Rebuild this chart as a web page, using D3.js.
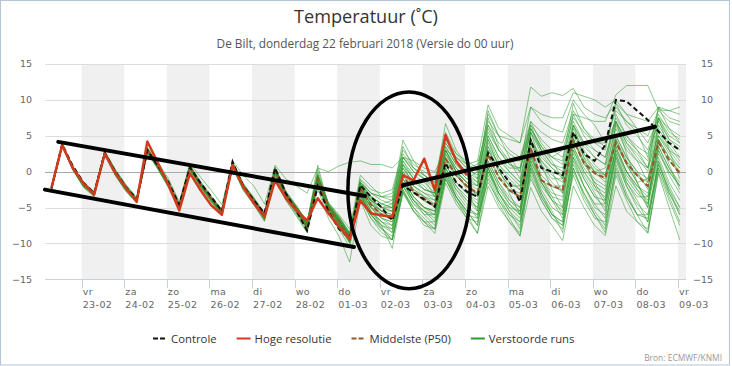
<!DOCTYPE html>
<html><head><meta charset="utf-8">
<script src="https://cdn.jsdelivr.net/npm/d3@7"></script>
<style>body{margin:0;background:#fff}svg{display:block}</style>
</head><body>
<svg id="chart" width="732" height="366"></svg>
<script>
// ---------------- DATA ----------------
const titleText = "Temperatuur (˚C)";
const subtitleText = "De Bilt, donderdag 22 februari 2018 (Versie do 00 uur)";
const creditText = "Bron: ECMWF/KNMI";
const yTickValues = [-15, -10, -5, 0, 5, 10, 15];
const dayTicks = ["2018-02-23","2018-02-24","2018-02-25","2018-02-26","2018-02-27","2018-02-28","2018-03-01",
  "2018-03-02","2018-03-03","2018-03-04","2018-03-05","2018-03-06","2018-03-07","2018-03-08","2018-03-09"];
const dayNames = ["vr","za","zo","ma","di","wo","do","vr","za","zo","ma","di","wo","do","vr"];
const dayDates = ["23-02","24-02","25-02","26-02","27-02","28-02","01-03","02-03","03-03","04-03","05-03","06-03","07-03","08-03","09-03"];
const axisStart = "2018-02-22T03:20", axisEnd = "2018-03-09T04:30";
const firstStep = "2018-02-22T07:00", stepHours = 6, stepCount = 60;
const legendNames = ["Controle", "Hoge resolutie", "Middelste (P50)", "Verstoorde runs"];

// Hoge resolutie (HRES, runs to +10 days)
const hres = [-2.2,3.7,0.5,-1.6, -3.2,2.5,-0.2,-2.3, -4.2,4.2,1.2,-1.9, -5.4,-0.2,-2.6,-4.7, -6.0,0.9,-2.1,-4.4,
  -6.3,-1.2,-3.7,-5.4, -6.8,-3.7,-5.8,-7.7, -9.4,-4.0,-5.8,-6.1, -6.3,-0.5,-1.2,1.8, -2.6,5.1,1.5,-0.5];
// Controle
const controle = [-2.3,3.8,0.8,-1.5, -3.0,2.6,0.0,-2.2, -3.8,3.0,0.8,-1.5, -4.6,0.6,-1.6,-3.5, -5.5,1.4,-2.0,-4.0,
  -5.8,0.5,-3.0,-5.5, -8.2,-2.0,-5.5,-8.0, -9.3,-1.9,-3.5,-5.0, -6.8,-1.9,-2.9,-3.9, -4.9,1.2,-1.5,-2.8,
  -3.5,2.6,0.5,-1.5, -4.2,4.4,0.5,0.0, -0.5,5.5,2.5,1.5, 3.7,10.0,9.8,8.5, 7.2,5.6,4.0,3.0];
// Middelste (P50)
const p50 = [-2.3,3.7,0.5,-1.8, -3.1,2.6,-0.2,-2.3, -4.0,3.0,0.8,-1.8, -4.8,0.6,-1.8,-3.8, -5.6,1.0,-2.0,-4.0,
  -6.2,0.2,-3.2,-5.2, -7.5,-1.0,-5.0,-7.0, -9.2,-2.4,-4.6,-6.0, -6.6,-0.5,-2.8,-3.8, -4.8,1.8,-0.5,-2.0,
  -3.0,2.3,-0.8,-2.6, -3.5,3.3,-1.2,-2.0, -2.5,4.4,1.2,-0.2, -0.9,4.1,1.2,-0.5, -2.0,4.1,1.6,-0.2];
// Verstoorde runs (ensemble members)
const ensembleRuns = [
 [-2.3,3.7,0.4,-1.9, -3.2,2.5,-0.3,-2.4, -4.1,2.9,0.7,-1.9, -4.9,0.5,-1.9,-3.9, -5.7,0.9,-2.1,-4.1, -6.3,0.1,-3.3,-5.3, -7.6,-1.1,-5.1,-7.1, -9.3,-2.6,-4.9,-6.1, -6.6,-1.0,-3.0,-4.1, -4.9,1.4,-0.6,-2.1, -3.1,2.2,-0.9,-2.7, -3.6,3.2,-1.3,-2.1, -2.6,4.3,1.1,-0.3, -1.0,4.0,1.1,-0.6, -2.1,4.0,1.5,-0.3],
 [-2.4,3.5,0.2,-2.2, -3.5,2.3,-0.6,-2.8, -4.4,2.6,0.3,-2.3, -5.3,0.2,-2.3,-4.3, -6.1,0.6,-2.6,-4.6, -6.9,-0.4,-3.9,-6.0, -8.4,-1.8,-5.8,-8.0, -10.5,-3.5,-6.5,-8.0, -9.5,-2.5,-5.0,-6.5, -8.0,-0.5,-3.5,-5.5, -7.5,0.5,-3.0,-5.5, -8.0,1.0,-3.0,-5.5, -8.5,0.5,-3.0,-6.0, -8.0,1.0,-3.0,-6.0, -8.5,0.0,-4.0,-7.5],
 [-2.2,3.8,0.7,-1.6, -2.9,2.8,0.1,-2.0, -3.8,3.3,1.1,-1.4, -4.5,0.9,-1.5,-3.5, -5.3,1.3,-1.7,-3.7, -5.8,0.6,-2.8,-4.8, -7.0,-0.5,-4.4,-6.3, -8.5,-1.5,-3.5,-4.5, -4.0,2.0,0.0,-1.0, -2.0,4.5,2.0,0.5, -0.5,6.0,3.0,1.0, 0.0,7.0,4.0,2.0, 1.0,8.0,5.0,3.0, 2.0,7.0,4.5,3.0, 1.5,7.5,5.0,4.0],
 [-2.3,3.6,0.5,-1.7, -3.1,2.7,-0.1,-2.2, -3.9,3.1,0.9,-1.7, -4.7,0.7,-1.7,-3.7, -5.5,1.1,-1.9,-3.9, -6.1,0.3,-3.0,-5.1, -7.3,-0.8,-4.8,-6.8, -9.8,-3.5,-6.0,-7.5, -8.5,-2.0,-4.0,-5.0, -5.5,1.0,-1.5,-3.0, -4.5,1.5,-1.5,-3.5, -5.0,2.0,-1.0,-3.0, -3.5,3.5,0.5,-1.5, -2.5,3.0,0.0,-2.0, -3.5,2.5,0.0,-2.0],
 [-2.3,3.7,0.8,-1.4, -2.8,2.9,0.3,-1.8, -3.6,3.4,1.3,-1.0, -4.2,1.2,-0.8,-2.6, -4.6,1.5,-0.5,-2.0, -4.5,0.9,-1.0,-2.0, -3.0,0.5,0.0,0.8, 1.3,1.5,1.0,1.0, 0.5,2.0,1.5,0.5, 0.0,3.0,2.0,1.0, 1.5,9.3,6.0,5.0, 4.0,11.8,10.5,11.0, 10.6,11.6,9.0,8.0, 7.5,9.5,8.0,7.5, 7.0,9.0,8.5,8.0],
 [-2.2,3.9,0.6,-1.5, -2.9,2.6,0.0,-2.1, -3.8,3.0,0.9,-1.6, -4.6,0.8,-1.6,-3.6, -5.4,1.1,-1.8,-3.8, -5.9,0.4,-2.9,-4.9, -7.1,-0.6,-4.5,-6.5, -8.8,-1.0,-2.5,-3.0, -2.5,3.0,1.0,0.0, -1.0,5.5,2.5,1.0, 0.0,8.0,5.0,3.0, 2.0,7.0,5.5,4.5, 4.0,8.5,6.0,4.5, 3.5,9.0,7.0,6.0, 5.0,8.5,7.0,6.5],
 [-2.4,3.6,0.3,-2.0, -3.3,2.4,-0.4,-2.6, -4.2,2.8,0.5,-2.0, -5.0,0.4,-2.0,-4.0, -5.9,0.8,-2.3,-4.3, -6.5,-0.1,-3.5,-5.6, -7.9,-1.6,-5.4,-7.4, -9.8,-3.0,-5.5,-7.5, -10.7,-2.8,-5.0,-7.0, -8.6,-1.6,-4.5,-6.5, -8.6,-2.0,-5.0,-7.0, -9.0,-2.2,-5.5,-7.5, -9.6,-2.0,-5.0,-7.5, -8.9,-2.0,-5.5,-7.0, -8.6,-0.3,-5.0,-9.5],
 [-2.3,3.8,0.6,-1.8, -3.0,2.7,-0.1,-2.3, -4.0,3.1,0.8,-1.7, -4.8,0.7,-1.8,-3.8, -5.6,1.0,-2.0,-4.0, -6.2,0.2,-3.1,-5.2, -7.4,-0.9,-4.9,-6.9, -9.0,-2.2,-4.5,-5.5, -6.0,0.0,-2.5,-3.5, -4.5,2.0,-0.5,-2.0, -3.5,3.0,0.0,-2.0, -4.0,4.0,0.5,-1.5, -3.0,5.0,2.0,0.0, -1.5,5.0,2.0,0.0, -2.5,5.0,2.5,0.5],
 [-2.3,3.6,0.4,-2.0, -3.2,2.5,-0.4,-2.5, -4.1,2.8,0.6,-2.0, -5.0,0.5,-2.0,-4.0, -5.8,0.9,-2.2,-4.2, -6.4,0.0,-3.4,-5.4, -7.7,-1.3,-5.2,-7.2, -9.6,-3.2,-5.8,-7.0, -7.5,-2.0,-4.5,-5.5, -6.5,0.0,-2.5,-4.0, -5.5,0.5,-2.5,-4.5, -6.0,1.5,-2.0,-4.0, -5.5,2.0,-1.0,-3.5, -5.0,2.5,-1.0,-3.0, -4.5,2.0,-1.5,-4.0],
 [-2.2,3.7,0.5,-1.7, -3.0,2.6,0.0,-2.1, -3.9,3.0,0.9,-1.6, -4.7,0.6,-1.7,-3.7, -5.5,1.0,-1.9,-3.9, -6.0,0.4,-3.0,-5.0, -7.2,-0.4,-4.3,-6.0, -8.0,-0.5,-2.0,-3.5, -4.0,4.4,1.5,-0.5, -2.0,6.7,3.0,1.0, -1.0,8.5,5.0,2.0, 0.0,6.5,3.0,1.0, 0.5,7.0,4.0,2.0, 1.0,8.0,5.0,3.0, 0.5,9.0,6.0,4.0],
 [-2.3,3.7,0.4,-1.9, -3.1,2.6,-0.2,-2.4, -4.0,2.9,0.7,-1.9, -4.9,0.6,-1.9,-3.9, -5.7,1.0,-2.1,-4.1, -6.3,0.2,-3.3,-5.3, -7.6,-1.0,-5.0,-7.0, -9.2,-2.8,-5.5,-7.0, -8.0,-1.5,-4.0,-6.0, -7.5,0.0,-3.5,-6.0, -8.6,-0.5,-4.0,-6.5, -8.9,0.5,-3.5,-6.0, -7.0,2.0,-2.0,-4.5, -6.5,2.5,-1.5,-4.0, -7.0,1.5,-2.0,-5.0],
 [-2.2,3.8,0.7,-1.6, -2.9,2.8,0.2,-1.9, -3.7,3.2,1.1,-1.4, -4.5,0.9,-1.4,-3.4, -5.3,1.3,-1.6,-3.6, -5.8,0.6,-2.7,-4.7, -7.0,-0.2,-4.4,-6.2, -8.6,-1.8,-3.5,-4.5, -5.0,1.5,-0.5,-1.5, -3.0,3.5,1.0,-0.5, -2.0,4.5,1.5,0.0, -1.5,6.0,3.0,1.0, 0.0,6.5,3.5,2.0, 1.0,7.0,4.0,2.5, 0.5,7.5,4.5,3.0],
 [-2.4,3.5,0.3,-2.1, -3.4,2.4,-0.5,-2.7, -4.3,2.7,0.4,-2.2, -5.1,0.3,-2.1,-4.1, -6.0,0.7,-2.4,-4.4, -6.7,-0.3,-3.7,-5.8, -8.1,-1.8,-5.6,-7.6, -10.0,-3.8,-6.5,-8.5, -9.5,-2.5,-5.5,-7.0, -7.0,-1.0,-3.5,-5.5, -6.0,-1.5,-4.0,-6.0, -7.0,-1.0,-4.0,-6.5, -8.0,0.0,-3.0,-5.5, -7.5,0.5,-3.5,-6.0, -6.5,0.5,-3.0,-5.5],
 [-2.3,3.7,0.6,-1.7, -3.1,2.6,-0.1,-2.2, -4.0,3.0,0.8,-1.8, -4.8,0.7,-1.7,-3.7, -5.6,1.1,-1.9,-3.9, -6.1,0.3,-3.1,-5.1, -7.4,-0.7,-4.8,-6.6, -8.9,-2.0,-4.5,-6.0, -6.5,-0.5,-2.5,-3.5, -4.0,2.0,0.0,-1.5, -2.5,3.5,1.0,-0.5, -2.0,4.5,2.0,0.5, -0.5,6.5,4.0,3.0, 2.0,7.5,5.0,3.5, 2.5,7.0,4.5,3.5],
 [-2.4,3.6,0.3,-2.0, -3.3,2.4,-0.5,-2.6, -4.2,2.7,0.4,-2.1, -5.1,0.3,-2.1,-4.2, -6.0,0.6,-2.5,-4.6, -6.9,-0.6,-4.0,-6.2, -8.5,-2.4,-6.5,-9.0, -12.6,-4.0,-7.5,-9.0, -9.5,-3.0,-5.5,-7.0, -8.0,-1.0,-4.0,-6.0, -6.5,1.0,-2.0,-4.0, -5.0,2.5,-1.0,-3.5, -6.0,3.0,-0.5,-3.0, -5.5,3.5,0.0,-2.5, -5.0,3.0,-0.5,-3.0],
 [-2.3,3.7,0.5,-1.8, -3.1,2.6,-0.2,-2.3, -4.0,3.0,0.8,-1.8, -4.8,0.6,-1.8,-3.8, -5.6,1.0,-2.0,-4.0, -6.2,0.1,-3.2,-5.2, -7.5,-1.2,-5.0,-7.0, -9.4,-2.4,-4.5,-5.5, -5.5,0.5,-2.0,-3.0, -3.5,2.5,0.0,-1.5, -2.0,4.0,1.0,-1.0, -2.5,4.5,1.0,-1.0, -1.0,5.5,2.5,0.5, -0.5,5.0,2.0,0.0, -1.0,5.5,3.0,1.0],
 [-2.3,3.6,0.4,-1.9, -3.2,2.5,-0.3,-2.4, -4.1,2.8,0.6,-2.0, -4.9,0.5,-1.9,-3.9, -5.8,0.9,-2.2,-4.2, -6.4,0.0,-3.4,-5.5, -7.8,-1.4,-5.3,-7.3, -9.5,-3.2,-6.0,-8.0, -9.0,-2.0,-4.5,-6.0, -6.0,0.5,-2.0,-4.0, -5.0,1.0,-2.0,-4.5, -6.0,2.0,-1.5,-4.0, -5.0,3.0,0.0,-2.0, -3.0,3.0,-0.5,-2.5, -4.0,3.5,0.5,-2.0],
 [-2.2,3.8,0.6,-1.7, -3.0,2.7,0.0,-2.1, -3.9,3.1,1.0,-1.6, -4.7,0.8,-1.6,-3.6, -5.4,1.2,-1.8,-3.8, -6.0,0.3,-3.0,-5.0, -7.3,0.9,-4.7,-6.7, -9.0,-1.5,-3.5,-4.5, -5.0,3.5,0.5,-1.0, -3.5,5.0,1.5,0.0, -1.5,7.5,3.5,1.5, -1.0,6.0,3.5,2.0, 1.5,9.5,6.0,4.0, 3.0,9.5,6.5,5.0, 3.0,8.0,5.5,4.5],
 [-2.3,3.7,0.5,-1.8, -3.1,2.6,-0.2,-2.3, -4.0,2.9,0.7,-1.9, -4.9,0.6,-1.9,-3.9, -5.7,0.9,-2.1,-4.1, -6.3,0.1,-3.3,-5.3, -7.6,-1.0,-5.0,-7.0, -9.2,-2.5,-5.0,-6.5, -7.0,-1.5,-3.5,-5.0, -5.5,1.0,-1.5,-3.0, -4.0,1.5,-1.5,-4.0, -5.5,2.5,-1.5,-4.0, -6.5,1.5,-2.0,-4.5, -4.5,2.0,-1.5,-3.5, -3.5,3.0,0.0,-2.0],
 [-2.3,3.8,0.6,-1.7, -3.0,2.7,-0.1,-2.2, -3.9,3.1,0.9,-1.7, -4.7,0.7,-1.7,-3.7, -5.5,1.0,-1.9,-3.9, -6.1,0.3,-3.1,-5.1, -7.4,-0.8,-4.8,-6.8, -9.0,-2.2,-4.0,-5.0, -4.5,1.0,-1.0,-2.5, -3.0,3.0,0.5,-1.0, 0.0,5.5,3.0,1.5, 1.5,6.0,3.5,1.5, -1.0,4.5,1.5,-1.5, -4.0,2.0,-2.0,-4.5, -6.0,1.5,-3.0,-6.0],
 [-2.3,3.6,0.5,-1.8, -3.1,2.6,-0.2,-2.3, -4.0,2.9,0.7,-1.8, -4.8,0.6,-1.8,-3.8, -5.6,1.0,-2.0,-4.0, -6.2,0.2,-3.2,-5.2, -7.5,-1.0,-5.0,-6.9, -9.1,-2.3,-4.6,-5.8, -6.2,-0.5,-2.8,-4.0, -4.6,1.8,-0.4,-2.0, -3.2,2.5,-0.6,-2.5, -3.0,3.5,-0.5,-2.0, -2.0,4.5,1.5,0.0, -0.5,4.5,1.5,-0.5, -1.5,4.5,2.0,0.0],
 [-2.2,3.7,0.6,-1.6, -3.0,2.7,0.0,-2.1, -3.9,3.1,0.9,-1.6, -4.7,0.8,-1.6,-3.6, -5.4,1.2,-1.8,-3.8, -5.9,0.5,-2.9,-4.9, -7.1,0.3,-4.6,-6.5, -8.7,-1.2,-3.0,-3.5, -3.0,2.5,0.5,-0.5, -1.5,4.0,2.0,0.5, 1.0,6.5,4.0,2.5, 1.5,6.5,4.5,3.0, 2.0,7.5,5.5,4.0, 4.0,8.5,7.0,5.5, 2.0,9.0,7.5,7.0],
 [-2.4,3.6,0.4,-2.0, -3.3,2.5,-0.4,-2.5, -4.2,2.8,0.5,-2.0, -5.0,0.4,-2.0,-4.0, -5.9,0.8,-2.3,-4.3, -6.6,-0.2,-3.6,-5.7, -8.0,-1.6,-5.5,-7.5, -9.9,-3.2,-6.0,-7.8, -9.5,-2.8,-5.5,-7.5, -8.0,-1.0,-4.0,-6.5, -7.0,-1.0,-4.5,-7.0, -8.5,-0.5,-4.0,-6.5, -7.5,0.5,-3.5,-6.0, -8.5,-0.5,-4.0,-7.0, -8.0,0.5,-3.5,-7.0],
 [-2.3,3.7,0.5,-1.8, -3.1,2.6,-0.2,-2.3, -4.0,3.0,0.8,-1.8, -4.8,0.6,-1.8,-3.8, -5.6,1.0,-2.0,-4.0, -6.2,0.2,-3.2,-5.2, -7.5,-0.9,-4.9,-6.9, -9.0,-2.0,-4.0,-5.0, -5.0,1.0,-1.0,-2.5, -3.0,3.0,0.0,-1.5, -3.5,3.5,0.0,-2.0, -2.0,4.0,1.5,0.0, -3.0,4.5,1.0,-1.0, -2.0,4.0,1.0,-1.5, -1.0,4.5,2.0,0.5],
 [-2.4,3.7,0.4,-1.9, -3.2,2.6,-0.3,-2.4, -4.1,2.9,0.6,-1.9, -4.9,0.5,-1.9,-3.9, -5.7,0.9,-2.2,-4.2, -6.4,0.1,-3.4,-5.4, -7.7,-1.1,-5.2,-7.2, -9.5,-2.9,-5.0,-6.5, -7.5,-1.5,-4.0,-5.5, -6.0,0.5,-2.0,-3.5, -5.0,0.5,-3.0,-5.0, -6.5,1.0,-2.5,-5.0, -6.0,2.5,-1.0,-3.5, -4.0,3.5,0.0,-2.0, -3.0,3.5,0.5,-1.5],
 [-2.3,3.8,0.6,-1.7, -3.0,2.7,0.0,-2.2, -3.9,3.1,0.9,-1.7, -4.7,0.7,-1.7,-3.7, -5.5,1.1,-1.9,-3.9, -6.0,0.4,-3.0,-5.0, -7.2,-0.5,-4.6,-6.5, -8.8,-1.5,-3.0,-4.0, -4.5,2.0,0.0,-1.0, -2.5,4.0,1.5,0.0, -1.0,5.0,2.0,0.5, 0.5,5.5,3.0,2.0, 3.0,8.0,7.5,7.0, 7.0,10.7,12.0,12.0, 12.0,8.6,8.5,9.0],
 [-2.3,3.7,0.5,-1.8, -3.1,2.6,-0.1,-2.3, -4.0,3.0,0.8,-1.8, -4.8,0.7,-1.8,-3.8, -5.6,1.0,-2.0,-4.0, -6.2,0.2,-3.2,-5.2, -7.4,-1.0,-4.9,-6.9, -9.0,-1.8,-3.8,-5.0, -5.5,1.5,-1.0,-2.0, -3.5,3.5,1.0,-0.5, -1.5,6.5,3.0,1.0, 0.5,9.0,7.0,6.0, 5.5,10.0,8.0,6.5, 4.0,7.0,4.0,2.0, 0.0,6.5,4.0,2.0],
 [-2.4,3.6,0.4,-2.0, -3.3,2.5,-0.4,-2.5, -4.2,2.8,0.5,-2.0, -5.0,0.4,-2.0,-4.0, -5.9,0.8,-2.3,-4.3, -6.5,0.0,-3.5,-5.6, -7.9,-1.5,-5.4,-7.4, -9.7,-3.0,-5.5,-7.0, -8.5,-1.0,-3.5,-5.0, -6.0,0.5,-2.5,-4.5, -6.5,0.0,-3.5,-6.0, -7.5,0.5,-3.0,-6.0, -7.0,1.0,-2.0,-5.0, -6.0,1.5,-2.0,-5.0, -7.0,1.0,-2.5,-6.0],
 [-2.3,3.7,0.6,-1.7, -3.0,2.7,0.0,-2.2, -3.9,3.1,0.9,-1.7, -4.7,0.7,-1.7,-3.7, -5.5,1.1,-1.9,-3.9, -6.1,0.3,-3.1,-5.1, -7.3,-0.8,-4.7,-6.7, -8.9,-1.8,-4.0,-5.5, -6.5,1.0,-2.0,-3.5, -5.0,3.0,0.0,-2.5, -5.5,4.5,0.5,-3.0, -6.0,5.5,1.0,-2.5, -5.0,6.5,2.0,-2.0, -4.5,7.0,2.5,-1.5, -5.0,7.5,3.0,-1.0],
 [-2.3,3.7,0.5,-1.8, -3.1,2.6,-0.2,-2.3, -4.0,3.0,0.8,-1.8, -4.8,0.6,-1.8,-3.8, -5.6,1.0,-2.0,-4.0, -6.2,0.2,-3.2,-5.2, -7.4,-0.6,-4.6,-6.4, -8.6,-1.5,-3.0,-3.5, -3.5,2.0,0.5,-0.5, -1.5,4.5,2.5,1.5, 0.5,7.0,5.0,4.5, 4.0,9.0,8.0,7.5, 7.5,11.0,10.5,10.0, 9.0,10.0,8.0,6.0, 4.0,7.5,6.0,5.0],
 [-2.4,3.6,0.3,-2.0, -3.3,2.4,-0.4,-2.6, -4.2,2.8,0.5,-2.0, -5.0,0.4,-2.0,-4.0, -5.8,0.8,-2.2,-4.2, -6.4,0.0,-3.4,-5.4, -7.8,-1.3,-5.3,-7.3, -9.8,-3.3,-6.0,-7.5, -8.0,-1.5,-4.0,-5.5, -7.0,-0.5,-3.5,-5.5, -7.5,0.0,-3.0,-5.0, -5.5,1.5,-1.5,-3.5, -4.0,3.5,0.0,-2.5, -3.5,4.5,1.0,-1.5, -4.5,4.5,1.0,-2.5],
 [-2.2,3.8,0.6,-1.6, -3.0,2.7,0.0,-2.1, -3.9,3.1,0.9,-1.6, -4.7,0.8,-1.6,-3.6, -5.4,1.1,-1.8,-3.8, -6.0,0.4,-3.0,-5.0, -7.2,-0.7,-4.6,-6.6, -9.0,-2.0,-4.0,-5.0, -5.5,0.5,-1.5,-2.5, -3.0,3.0,0.5,-1.0, -2.0,5.0,2.0,0.0, -1.5,5.5,2.5,0.5, -1.0,6.0,3.0,1.0, -0.5,6.5,3.5,1.5, -1.5,6.0,3.5,1.5],
 [-2.3,3.6,0.4,-1.9, -3.2,2.5,-0.3,-2.4, -4.1,2.9,0.6,-1.9, -4.9,0.5,-1.9,-3.9, -5.7,0.9,-2.1,-4.1, -6.3,0.1,-3.3,-5.3, -7.6,-1.2,-5.1,-7.1, -9.3,-2.7,-5.0,-6.5, -7.0,-1.0,-3.5,-5.0, -5.5,0.0,-3.0,-5.0, -6.0,0.5,-3.0,-5.5, -7.0,0.0,-3.5,-6.0, -7.5,-0.5,-4.0,-6.5, -7.0,0.0,-3.5,-6.0, -6.0,1.0,-2.5,-5.0],
 [-2.3,3.7,0.5,-1.8, -3.1,2.6,-0.1,-2.3, -4.0,3.0,0.8,-1.8, -4.8,0.7,-1.8,-3.8, -5.6,1.0,-2.0,-4.0, -6.2,0.3,-3.1,-5.1, -7.4,-0.9,-4.9,-6.9, -9.1,-2.0,-4.2,-5.5, -6.0,0.0,-2.0,-3.0, -4.0,2.5,0.0,-1.5, -3.0,3.0,0.5,-1.5, -2.5,4.5,1.5,-0.5, -1.5,5.5,2.5,0.0, 0.5,6.0,3.0,1.5, 0.5,5.0,3.0,2.0]
];
// Hand-drawn annotations on the picture (in data units: time, °C)
const annotationLines = [
  [["2018-02-22T10:50", 4.15], ["2018-03-01T15:36", -3.4]],
  [["2018-02-22T03:20", -2.5], ["2018-03-01T09:26", -10.5]],
  [["2018-03-02T13:02", -1.9], ["2018-03-08T11:01", 6.25]]
];
const annotationEllipse = {center: ["2018-03-02T16:25", -2.6], halfHours: 34.4, halfDegrees: 13.7};

// ---------------- CHART ----------------
const W = 732, H = 366;
const plot = {left: 45, right: 686, top: 64, bottom: 279.3};
const parse = s => new Date(s + ":00Z");
const parseDay = s => new Date(s + "T00:00:00Z");
const times = d3.range(stepCount).map(i => new Date(parse(firstStep).getTime() + i * stepHours * 3600e3));

const x = d3.scaleUtc().domain([parse(axisStart), parse(axisEnd)]).range([plot.left, plot.right]);
const y = d3.scaleLinear().domain([-15, 15]).range([plot.bottom, plot.top]);

const svg = d3.select("#chart");
const FONT = "'Open Sans', 'DejaVu Sans', sans-serif";
const AXFONT = "'DejaVu Sans', sans-serif";

svg.append("rect").attr("x", 0).attr("y", 0).attr("width", W).attr("height", H).attr("fill", "#fff");

svg.append("defs").append("clipPath").attr("id", "plotclip").append("rect")
  .attr("x", plot.left).attr("y", plot.top - 5).attr("width", plot.right - plot.left).attr("height", plot.bottom - plot.top + 10);

const dTicks = dayTicks.map(parseDay);
// alternating day bands
const bandG = svg.append("g").attr("clip-path", "url(#plotclip)");
bandG.selectAll("rect").data(dTicks.filter((d, i) => i % 2 === 0)).join("rect")
  .attr("x", d => x(d)).attr("y", plot.top)
  .attr("width", d => x(d3.utcDay.offset(d, 1)) - x(d)).attr("height", plot.bottom - plot.top)
  .attr("fill", "#f0f0f0");

// horizontal grid
svg.append("g").selectAll("line").data(yTickValues).join("line")
  .attr("x1", plot.left).attr("x2", plot.right)
  .attr("y1", d => Math.round(y(d)) + 0.5).attr("y2", d => Math.round(y(d)) + 0.5)
  .attr("stroke", d => d === 0 ? "#a8a8a8" : (d === -15 ? "#c8d0dc" : "#dcdcdc")).attr("stroke-width", 1);

// y axis labels left & right
const yl = svg.append("g").attr("font-family", AXFONT).attr("font-size", 9.5).attr("fill", "#666");
yl.selectAll("text.l").data(yTickValues).join("text").attr("class", "l")
  .attr("x", 32).attr("y", d => y(d)).attr("dy", "0.35em").attr("text-anchor", "end")
  .text(d => d < 0 ? "−" + Math.abs(d) : d);
yl.selectAll("text.r").data(yTickValues).join("text").attr("class", "r")
  .attr("x", 713).attr("y", d => y(d)).attr("dy", "0.35em").attr("text-anchor", "end")
  .text(d => d < 0 ? "−" + Math.abs(d) : d);

// x axis ticks and labels
const xg = svg.append("g");
xg.selectAll("line").data(dTicks).join("line")
  .attr("x1", d => Math.round(x(d)) + 0.5).attr("x2", d => Math.round(x(d)) + 0.5)
  .attr("y1", plot.bottom).attr("y2", plot.bottom + 9).attr("stroke", "#c8d0dc");
const xlab = xg.append("g").attr("font-family", AXFONT).attr("font-size", 9.5).attr("fill", "#666")
  .attr("letter-spacing", 0.4);
xlab.selectAll("text.dn").data(dTicks).join("text").attr("class", "dn")
  .attr("x", d => x(d) + 1).attr("y", 295).text((d, i) => dayNames[i]);
xlab.selectAll("text.dd").data(dTicks).join("text").attr("class", "dd")
  .attr("x", d => x(d) + 1).attr("y", 307.5).text((d, i) => dayDates[i]);

// series
const lineGen = d3.line().x((d, i) => x(times[i])).y(d => y(d));
const seriesG = svg.append("g").attr("clip-path", "url(#plotclip)");
seriesG.selectAll("path.run").data(ensembleRuns).join("path").attr("class", "run")
  .attr("d", lineGen).attr("fill", "none").attr("stroke", "#2f9a2f").attr("stroke-opacity", 0.55)
  .attr("stroke-width", 1).attr("stroke-linejoin", "round");
seriesG.append("path").attr("d", lineGen(p50)).attr("fill", "none").attr("stroke", "#9a5528")
  .attr("stroke-width", 2).attr("stroke-dasharray", "5,3");
seriesG.append("path").attr("d", lineGen(controle)).attr("fill", "none").attr("stroke", "#111")
  .attr("stroke-width", 2).attr("stroke-dasharray", "5,3");
seriesG.append("path").attr("d", lineGen(hres)).attr("fill", "none").attr("stroke", "#d23a1e")
  .attr("stroke-width", 2.5).attr("stroke-linejoin", "round");

// annotations
const annG = svg.append("g");
annG.selectAll("line").data(annotationLines).join("line")
  .attr("x1", d => x(parse(d[0][0]))).attr("y1", d => y(d[0][1]))
  .attr("x2", d => x(parse(d[1][0]))).attr("y2", d => y(d[1][1]))
  .attr("stroke", "#000").attr("stroke-width", 4).attr("stroke-linecap", "round");
{
  const c = parse(annotationEllipse.center[0]);
  const cx = x(c), cy = y(annotationEllipse.center[1]);
  const rx = x(new Date(c.getTime() + annotationEllipse.halfHours * 3600e3)) - cx;
  const ry = y(annotationEllipse.center[1] - annotationEllipse.halfDegrees) - cy;
  annG.append("ellipse").attr("cx", cx).attr("cy", cy).attr("rx", rx).attr("ry", ry)
    .attr("fill", "none").attr("stroke", "#000").attr("stroke-width", 3.5);
}

// fitting helper
function fitWidth(sel, target) {
  const w = sel.node().getComputedTextLength();
  const fs = parseFloat(sel.attr("font-size"));
  if (w > 0) sel.attr("font-size", (fs * target / w).toFixed(2));
}

// title
const t = svg.append("text").attr("x", 366).attr("y", 23).attr("text-anchor", "middle")
  .attr("font-family", FONT).attr("font-size", 17).attr("fill", "#333").text(titleText);
fitWidth(t, 144);
const st = svg.append("text").attr("x", 365).attr("y", 48).attr("text-anchor", "middle")
  .attr("font-family", FONT).attr("font-size", 11).attr("fill", "#555").text(subtitleText);
fitWidth(st, 297);

// legend
const legendStyles = [
  {stroke: "#111", dash: "5,2", w: 2},
  {stroke: "#d23a1e", dash: null, w: 2},
  {stroke: "#9a5528", dash: "5,2", w: 2},
  {stroke: "#2e9a2e", dash: null, w: 2}
];
const lg = svg.append("g");
const probe = lg.append("text").attr("font-family", FONT).attr("font-size", 12).text(legendNames[1]);
fitWidth(probe, 77);
const legendFs = parseFloat(probe.attr("font-size"));
probe.remove();
let lx = 153;
legendNames.forEach((name, i) => {
  const s = legendStyles[i];
  lg.append("line").attr("x1", lx).attr("x2", lx + 14).attr("y1", 338.5).attr("y2", 338.5)
    .attr("stroke", s.stroke).attr("stroke-width", s.w).attr("stroke-dasharray", s.dash);
  const tx = lg.append("text").attr("x", lx + 18).attr("y", 342.5).attr("font-family", FONT)
    .attr("font-size", legendFs).attr("fill", "#333").text(name);
  lx += 18 + tx.node().getComputedTextLength() + 20;
});

// credits
const cr = svg.append("text").attr("x", 722).attr("y", 361).attr("text-anchor", "end")
  .attr("font-family", FONT).attr("font-size", 9).attr("fill", "#999").text(creditText);
fitWidth(cr, 78);

// frame
svg.append("rect").attr("x", 0.5).attr("y", 0.5).attr("width", 729).attr("height", 364.5)
  .attr("fill", "none").attr("stroke", "#b4c6d6").attr("stroke-width", 1);
</script>
</body></html>
